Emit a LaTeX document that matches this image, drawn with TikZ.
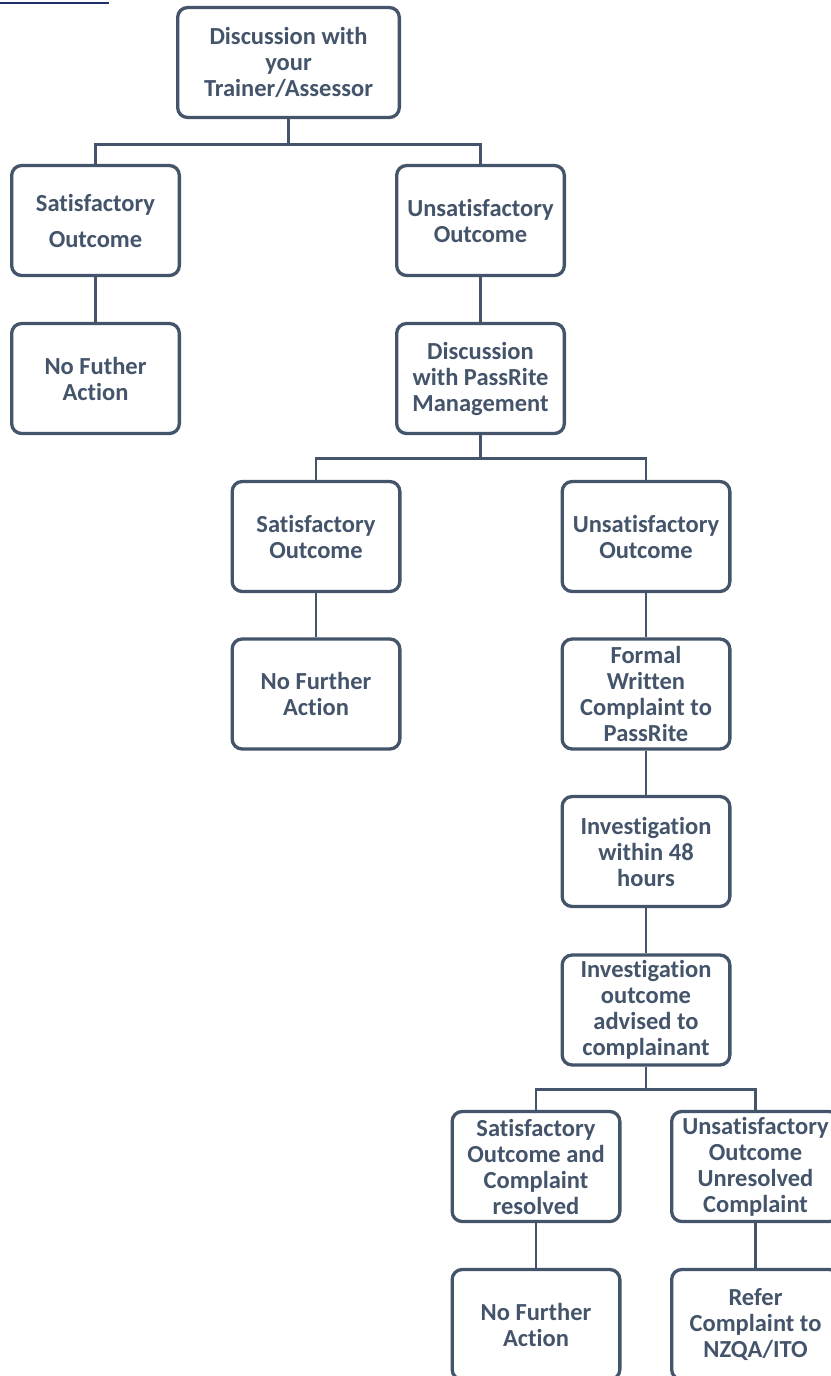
\documentclass[tikz,border=0pt]{standalone}
\usepackage{fontspec}
\setmainfont{Carlito}[Ligatures=NoCommon]
\definecolor{boxline}{HTML}{44546A}
\definecolor{linknavy}{HTML}{1F2F6E}

\begin{document}
\begin{tikzpicture}[x=1pt, y=1pt,
		every node/.style={text centered},
		stepbox/.style={draw=boxline, line width=3.3pt, rounded corners=10pt, fill=white,
			minimum width=167.7pt, minimum height=110pt, inner sep=0pt, align=center,
			text=boxline, font=\fontsize{24.5}{26}\selectfont\bfseries},
		link/.style={draw=boxline, line width=2.6pt}]
	\useasboundingbox (0,0) rectangle (830,-1376);

	\draw[linknavy, line width=1.4pt] (0,-3) -- (109,-3);

	\node[stepbox, minimum width=221.7pt] (trainer) at (288.5,-62.5)
		{Discussion with\\your\\Trainer/Assessor};

	\node[stepbox] (satone) at (95.5,-220.5) {Satisfactory\\[10pt]Outcome};
	\node[stepbox] (nofurtherone) at (95.5,-378.5) {No Futher\\Action};

	\node[stepbox] (unsatone) at (480.5,-220.5) {Unsatisfactory\\Outcome};
	\node[stepbox] (mgmt) at (480.5,-378.5) {Discussion\\with PassRite\\Management};

	\node[stepbox] (sattwo) at (316,-536.5) {Satisfactory\\Outcome};
	\node[stepbox] (nofurthertwo) at (316,-694) {No Further\\Action};

	\node[stepbox] (unsattwo) at (646,-536.5) {Unsatisfactory\\Outcome};
	\node[stepbox] (formal) at (646,-694) {Formal\\Written\\Complaint to\\PassRite};
	\node[stepbox] (investigation) at (646,-851.5) {Investigation\\within 48\\hours};
	\node[stepbox] (advised) at (646,-1010) {Investigation\\outcome\\advised to\\complainant};

	\node[stepbox] (satthree) at (536,-1166.5) {Satisfactory\\Outcome and\\Complaint\\resolved};
	\node[stepbox] (nofurtherthree) at (536,-1324.5) {No Further\\Action};

	\node[stepbox] (unsatthree) at (755.5,-1166.5) {Unsatisfactory\\Outcome\\Unresolved\\Complaint};
	\node[stepbox] (refer) at (755.5,-1324.5) {Refer\\Complaint to\\NZQA/ITO};

	% branches
	\draw[link] (trainer.south) -- ++(0,-25.5) -| (satone.north);
	\draw[link] (trainer.south) -- ++(0,-25.5) -| (unsatone.north);
	\draw[link] (mgmt.south) -- ++(0,-23.5) -| (sattwo.north);
	\draw[link] (mgmt.south) -- ++(0,-23.5) -| (unsattwo.north);
	\draw[link] (advised.south) -- ++(0,-23) -| (satthree.north);
	\draw[link] (advised.south) -- ++(0,-23) -| (unsatthree.north);

	% straight links
	\draw[link] (satone) -- (nofurtherone);
	\draw[link] (unsatone) -- (mgmt);
	\draw[link] (sattwo) -- (nofurthertwo);
	\draw[link] (unsattwo) -- (formal);
	\draw[link] (formal) -- (investigation);
	\draw[link] (investigation) -- (advised);
	\draw[link] (satthree) -- (nofurtherthree);
	\draw[link] (unsatthree) -- (refer);
\end{tikzpicture}
\end{document}
